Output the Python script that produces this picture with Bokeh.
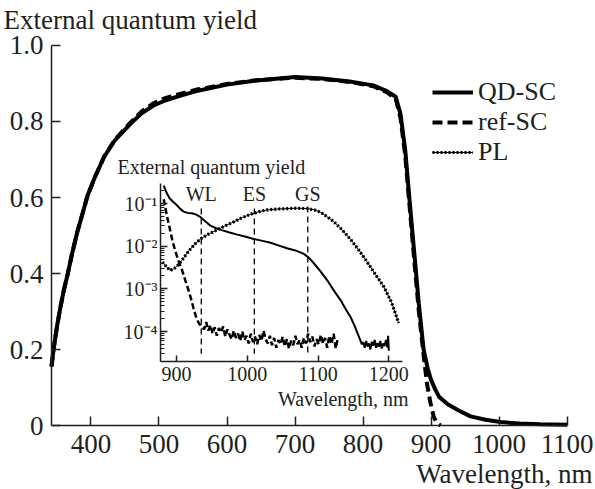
from bokeh.plotting import figure
from bokeh.models import (Range1d, LogScale, LinearAxis, LogAxis, FixedTicker,
                          CustomJSTickFormatter, Label, Legend, LegendItem)
from bokeh.core.properties import value
from bokeh.embed import file_html
from bokeh.resources import INLINE

FONT = "Liberation Serif"
INK = "#231f20"

# ---------------- main panel data ----------------
wl_qd = [342, 345, 350, 355, 360, 366, 372, 380, 388, 395, 405, 419, 435, 458, 475, 492,
         510, 532, 555, 571, 600, 640, 680, 700, 740, 780, 815, 835, 848, 855, 862, 868,
         875, 882, 889, 895, 900, 906, 912, 925, 940, 958, 980, 1002, 1030, 1060, 1100]
eqe_qd = [0.155, 0.20, 0.26, 0.31, 0.355, 0.40, 0.45, 0.51, 0.56, 0.605, 0.65, 0.706, 0.75,
          0.794, 0.822, 0.842, 0.856, 0.868, 0.88, 0.886, 0.897, 0.907, 0.914, 0.917, 0.913,
          0.905, 0.895, 0.88, 0.865, 0.82, 0.725, 0.60, 0.46, 0.32, 0.20, 0.15, 0.12, 0.095,
          0.075, 0.055, 0.04, 0.024, 0.015, 0.009, 0.005, 0.003, 0.002]

wl_ref = [342, 345, 350, 355, 360, 366, 372, 380, 388, 395, 405, 419, 435, 458, 475, 492,
          510, 532, 555, 571, 600, 640, 680, 700, 740, 780, 815, 835, 848, 855, 862, 868,
          875, 882, 889, 894, 899, 904, 909, 914]
eqe_ref = [0.155, 0.20, 0.26, 0.31, 0.355, 0.40, 0.45, 0.51, 0.56, 0.605, 0.65, 0.706, 0.752,
           0.797, 0.827, 0.848, 0.862, 0.873, 0.884, 0.889, 0.899, 0.908, 0.913, 0.915, 0.912,
           0.904, 0.893, 0.877, 0.86, 0.81, 0.71, 0.585, 0.44, 0.30, 0.185, 0.11, 0.06, 0.022,
           0.006, 0.0]

x_ticks = [400, 500, 600, 700, 800, 900, 1000, 1100]
y_ticks = [0, 0.2, 0.4, 0.6, 0.8, 1.0]
y_tick_labels = ["0", "0.2", "0.4", "0.6", "0.8", "1.0"]

# ---------------- inset data (log10 of external quantum yield) ----------------
in_wl_qd = [882, 886, 890, 895, 900, 905, 910, 916, 922, 928, 934, 941, 948, 956, 965, 975,
            986, 998, 1009, 1020, 1033, 1047, 1056, 1068, 1080, 1087, 1094, 1103, 1113, 1122,
            1132, 1140, 1146, 1152, 1158, 1162, 1164, 1166, 1168, 1170, 1172, 1174, 1176,
            1178, 1180, 1182, 1184, 1186, 1188, 1190, 1192, 1194, 1196, 1198, 1199, 1200]
in_lg_qd = [-0.58, -0.75, -0.87, -0.96, -1.03, -1.12, -1.19, -1.22, -1.23, -1.26, -1.32,
            -1.42, -1.52, -1.58, -1.63, -1.68, -1.73, -1.78, -1.83, -1.87, -1.92, -2.0,
            -2.05, -2.1, -2.18, -2.27, -2.4, -2.58, -2.8, -3.03, -3.27, -3.5, -3.66, -3.88,
            -4.13, -4.3, -4.25, -4.38, -4.22, -4.35, -4.28, -4.42, -4.24, -4.33, -4.2, -4.38,
            -4.27, -4.36, -4.22, -4.4, -4.28, -4.34, -4.2, -4.37, -4.1, -4.45]

in_wl_ref = [882, 886, 890, 894, 898, 903, 908, 912, 916, 920, 924, 928, 932, 936, 939, 942,
             945, 948, 951, 954, 957, 960, 963, 966, 969, 972, 975, 978, 981, 984, 987, 990,
             993, 996, 999, 1002, 1005, 1008, 1011, 1014, 1017, 1020, 1023, 1026, 1029, 1032,
             1035, 1038, 1041, 1044, 1047, 1050, 1053, 1056, 1059, 1062, 1065, 1068, 1071,
             1074, 1077, 1080, 1083, 1086, 1089, 1092, 1095, 1098, 1101, 1104, 1107, 1110,
             1113, 1116, 1119, 1122, 1125, 1128]
in_lg_ref = [-0.9, -1.25, -1.55, -1.85, -2.1, -2.35, -2.57, -2.78, -2.98, -3.2, -3.45, -3.68,
             -3.82, -3.88, -3.95, -3.78, -3.98, -3.85, -4.05, -3.9, -4.1, -3.92, -4.02, -3.88,
             -4.12, -3.95, -4.08, -4.18, -3.98, -4.15, -4.05, -4.22, -4.0, -4.2, -4.1, -4.28,
             -4.05, -4.25, -4.12, -4.3, -4.08, -4.22, -3.98, -4.18, -4.28, -4.1, -4.32, -4.15,
             -4.38, -4.2, -4.3, -4.12, -4.35, -4.18, -4.4, -4.22, -4.32, -4.1, -4.3, -4.2,
             -4.38, -4.15, -4.28, -4.05, -4.25, -4.12, -4.35, -4.18, -4.3, -4.08, -4.28,
             -4.15, -4.38, -4.1, -4.3, -4.05, -4.4, -4.15]

in_wl_pl = [880, 885, 891, 897, 903, 910, 918, 926, 934, 945, 957, 969, 981, 993, 1005, 1017,
            1028, 1042, 1056, 1070, 1085, 1095, 1103, 1112, 1122, 1133, 1146, 1158, 1169,
            1181, 1193, 1204, 1214]
in_lg_pl = [-2.37, -2.47, -2.57, -2.52, -2.43, -2.28, -2.1, -1.95, -1.83, -1.72, -1.62,
            -1.52, -1.43, -1.33, -1.25, -1.19, -1.15, -1.13, -1.12, -1.11, -1.12, -1.15,
            -1.2, -1.3, -1.42, -1.6, -1.84, -2.1, -2.36, -2.66, -2.95, -3.32, -3.8]

marker_wl = [935, 1010, 1085.5]
marker_names = ["WL", "ES", "GS"]
marker_top = [0.076, 0.076, 0.085]
marker_bottom = 3e-5

inset_x_ticks = [900, 1000, 1100, 1200]
inset_decades = [-5, -4, -3, -2, -1]

in_qd = [10 ** v for v in in_lg_qd]
in_ref = [10 ** v for v in in_lg_ref]
in_pl = [10 ** v for v in in_lg_pl]

# ---------------- figure: frame covers the whole canvas, axes at fixed locations ----------------
p = figure(width=595, height=489, x_range=Range1d(267.03, 1141.7),
           y_range=Range1d(-0.168421, 1.118421),
           output_backend="svg", toolbar_location=None,
           x_axis_type=None, y_axis_type=None, min_border=0)
p.outline_line_color = None
p.background_fill_color = "white"
p.border_fill_color = "white"

# inset coordinate system (log y)
p.extra_x_ranges = {"ix": Range1d(651.3, 1492.1)}
p.extra_y_ranges = {"iy": Range1d(10 ** -7.703, 10 ** 3.758)}
p.extra_y_scales = {"iy": LogScale()}

def style_axis(ax, size, tick_in, standoff):
    ax.axis_line_color = INK
    ax.axis_line_width = 1.5
    ax.major_tick_line_color = INK
    ax.major_tick_line_width = 1.5
    ax.major_tick_in = tick_in
    ax.major_tick_out = 0
    ax.minor_tick_out = 0
    ax.major_label_text_font = FONT
    ax.major_label_text_font_size = size
    ax.major_label_text_color = INK
    ax.major_label_standoff = standoff

xax = LinearAxis(ticker=FixedTicker(ticks=x_ticks), fixed_location=0, bounds=(342, 1100))
style_axis(xax, "27px", 9, 9)
xax.minor_tick_line_color = None
p.add_layout(xax, "below")

yax = LinearAxis(ticker=FixedTicker(ticks=y_ticks), fixed_location=342, bounds=(0, 1),
                 major_label_overrides={t: s for t, s in zip(y_ticks, y_tick_labels)})
style_axis(yax, "27px", 9, 8)
yax.minor_tick_line_color = None
p.add_layout(yax, "left")

ix_lo, ix_hi = 877.4, 1219.0
iy_lo, iy_hi = 10 ** -4.703, 10 ** -0.524

ixax = LinearAxis(x_range_name="ix", y_range_name="iy", fixed_location=iy_lo,
                  bounds=(ix_lo, ix_hi), ticker=FixedTicker(ticks=inset_x_ticks))
style_axis(ixax, "20px", 6, 5)
ixax.minor_tick_line_color = None
p.add_layout(ixax, "below")

major_dec = [10.0 ** d for d in inset_decades if iy_lo <= 10.0 ** d <= iy_hi]
minor_dec = [m * 10.0 ** d for d in inset_decades for m in range(2, 10)
             if iy_lo <= m * 10.0 ** d <= iy_hi]
iyax = LogAxis(x_range_name="ix", y_range_name="iy", fixed_location=ix_lo,
               bounds=(iy_lo, iy_hi),
               ticker=FixedTicker(ticks=major_dec, minor_ticks=minor_dec),
               formatter=CustomJSTickFormatter(code="""
const e = Math.round(Math.log10(tick));
const sup = {'-':'\u207b','0':'\u2070','1':'\u00b9','2':'\u00b2','3':'\u00b3','4':'\u2074',
             '5':'\u2075','6':'\u2076','7':'\u2077','8':'\u2078','9':'\u2079'};
return '10' + String(e).split('').map(c => sup[c]).join('');
"""))
style_axis(iyax, "20px", 7, 3)
iyax.minor_tick_line_color = INK
iyax.minor_tick_line_width = 1
iyax.minor_tick_in = 4
p.add_layout(iyax, "left")

# main curves
r_ref = p.line(wl_ref, eqe_ref, line_color="black", line_width=4, line_dash="10 5")
r_qd = p.line(wl_qd, eqe_qd, line_color="black", line_width=4)

# inset curves
p.line(in_wl_qd, in_qd, x_range_name="ix", y_range_name="iy", line_color="black", line_width=2)
p.line(in_wl_ref, in_ref, x_range_name="ix", y_range_name="iy", line_color="black",
       line_width=2.5, line_dash="6 3")
r_pl1 = p.line(in_wl_pl, in_pl, x_range_name="ix", y_range_name="iy", line_color="black",
               line_width=1)
r_pl2 = p.line(in_wl_pl, in_pl, x_range_name="ix", y_range_name="iy", line_color="black",
               line_width=3.2, line_dash="2 2")

p.segment(x0=marker_wl, y0=marker_top, x1=marker_wl, y1=[marker_bottom] * 3,
          x_range_name="ix", y_range_name="iy", line_color="black", line_width=1.3,
          line_dash="6 4")
p.text(x=marker_wl, y=[0.171] * 3, text=marker_names, x_range_name="ix", y_range_name="iy",
       text_font=value(FONT), text_font_size="20px", text_color=INK,
       text_align="center", text_baseline="alphabetic")

# texts
p.add_layout(Label(x=271.4, y=1.0684, text="External quantum yield", text_font=FONT,
                   text_font_size="27px", text_color=INK, text_align="left",
                   text_baseline="alphabetic"))
p.add_layout(Label(x=1137.3, y=-0.1289, text="Wavelength, nm", text_font=FONT,
                   text_font_size="27px", text_color=INK, text_align="right",
                   text_baseline="alphabetic"))
p.add_layout(Label(x=816.6, y=0.709, x_range_name="ix", y_range_name="iy",
                   text="External quantum yield", text_font=FONT, text_font_size="20px",
                   text_color=INK, text_align="left", text_baseline="alphabetic"))
p.add_layout(Label(x=1227.8, y=2.69e-6, x_range_name="ix", y_range_name="iy",
                   text="Wavelength, nm", text_font=FONT, text_font_size="20px",
                   text_color=INK, text_align="right", text_baseline="alphabetic"))

legend = Legend(items=[LegendItem(label="QD-SC", renderers=[r_qd]),
                       LegendItem(label="ref-SC", renderers=[r_ref]),
                       LegendItem(label="PL", renderers=[r_pl1, r_pl2])],
                location=(432, 322), padding=0, margin=0, spacing=0,
                glyph_width=41, glyph_height=28, label_height=28, label_standoff=5,
                label_text_font=FONT, label_text_font_size="26px", label_text_color=INK,
                border_line_color=None, background_fill_alpha=0)
p.add_layout(legend)

open("out.html", "w").write(file_html(p, INLINE))
